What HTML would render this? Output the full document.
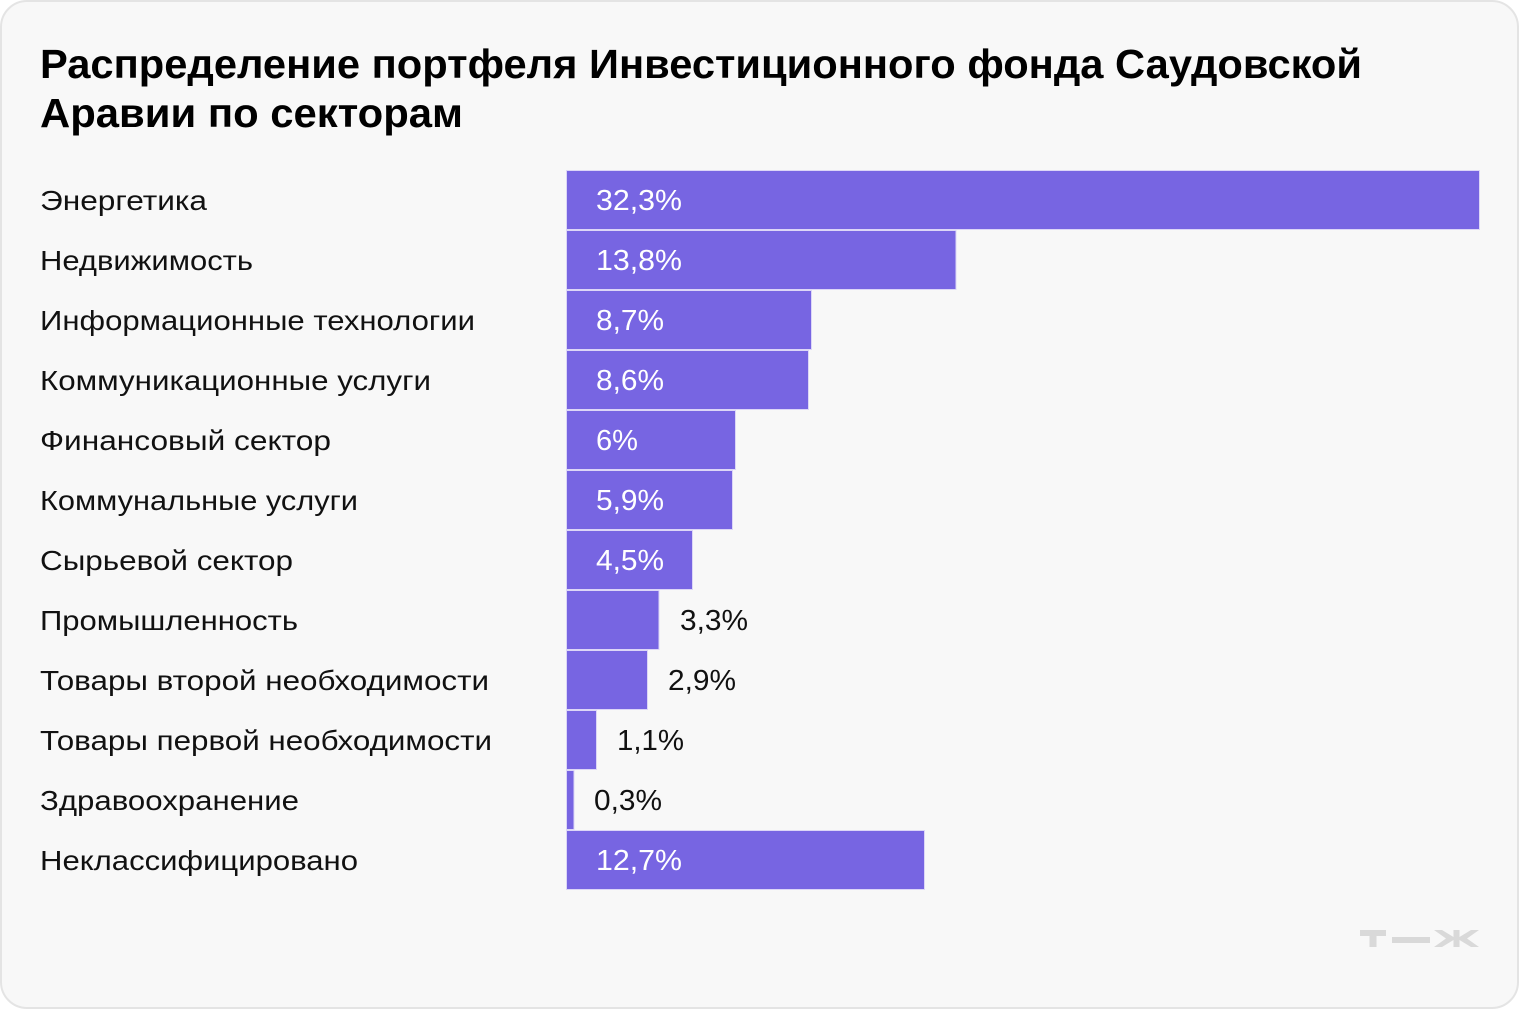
<!DOCTYPE html>
<html>
<head>
<meta charset="utf-8">
<style>
  html,body{margin:0;padding:0;background:#ffffff;}
  body{width:1520px;height:1010px;overflow:hidden;}
  svg{display:block;}
  .lbl{font-family:"Liberation Sans","Noto Sans CJK SC",sans-serif;font-size:28px;fill:#111;}
  .val{font-family:"Liberation Sans","Noto Sans CJK SC",sans-serif;font-size:29px;}
  .ttl{font-family:"Liberation Sans","Noto Sans CJK SC",sans-serif;font-size:41px;font-weight:bold;fill:#000;}
</style>
</head>
<body>
<svg width="1520" height="1010" viewBox="0 0 1520 1010" xmlns="http://www.w3.org/2000/svg">
  <rect x="1" y="1" width="1517" height="1007" rx="26" ry="26" fill="#f8f8f8" stroke="#e4e4e4" stroke-width="2"/>

  <text class="ttl" x="40" y="78" textLength="1322" lengthAdjust="spacingAndGlyphs">Распределение портфеля Инвестиционного фонда Саудовской</text>
  <text class="ttl" x="40" y="127" textLength="423" lengthAdjust="spacingAndGlyphs">Аравии по секторам</text>

  <g fill="#7765e2" stroke="#dcd6f7" stroke-width="1">
    <rect x="566.5" y="170.5" width="913" height="59"/>
    <rect x="566.5" y="230.5" width="389.5" height="59"/>
    <rect x="566.5" y="290.5" width="245" height="59"/>
    <rect x="566.5" y="350.5" width="242" height="59"/>
    <rect x="566.5" y="410.5" width="169" height="59"/>
    <rect x="566.5" y="470.5" width="166" height="59"/>
    <rect x="566.5" y="530.5" width="126" height="59"/>
    <rect x="566.5" y="590.5" width="92.5" height="59"/>
    <rect x="566.5" y="650.5" width="81" height="59"/>
    <rect x="566.5" y="710.5" width="30" height="59"/>
    <rect x="566.5" y="770.5" width="7.5" height="59"/>
    <rect x="566.5" y="830.5" width="358" height="59"/>
  </g>

  <g class="lbl">
    <text x="40" y="210" textLength="167" lengthAdjust="spacingAndGlyphs">Энергетика</text>
    <text x="40" y="270" textLength="213" lengthAdjust="spacingAndGlyphs">Недвижимость</text>
    <text x="40" y="330" textLength="435" lengthAdjust="spacingAndGlyphs">Информационные технологии</text>
    <text x="40" y="390" textLength="391" lengthAdjust="spacingAndGlyphs">Коммуникационные услуги</text>
    <text x="40" y="450" textLength="291" lengthAdjust="spacingAndGlyphs">Финансовый сектор</text>
    <text x="40" y="510" textLength="318" lengthAdjust="spacingAndGlyphs">Коммунальные услуги</text>
    <text x="40" y="570" textLength="253" lengthAdjust="spacingAndGlyphs">Сырьевой сектор</text>
    <text x="40" y="630" textLength="258" lengthAdjust="spacingAndGlyphs">Промышленность</text>
    <text x="40" y="690" textLength="449" lengthAdjust="spacingAndGlyphs">Товары второй необходимости</text>
    <text x="40" y="750" textLength="452" lengthAdjust="spacingAndGlyphs">Товары первой необходимости</text>
    <text x="40" y="810" textLength="259" lengthAdjust="spacingAndGlyphs">Здравоохранение</text>
    <text x="40" y="870" textLength="318" lengthAdjust="spacingAndGlyphs">Неклассифицировано</text>
  </g>

  <g class="val" fill="#ffffff">
    <text x="596" y="210" textLength="86" lengthAdjust="spacingAndGlyphs">32,3%</text>
    <text x="596" y="270" textLength="86" lengthAdjust="spacingAndGlyphs">13,8%</text>
    <text x="596" y="330" textLength="68" lengthAdjust="spacingAndGlyphs">8,7%</text>
    <text x="596" y="390" textLength="68" lengthAdjust="spacingAndGlyphs">8,6%</text>
    <text x="596" y="450" textLength="42" lengthAdjust="spacingAndGlyphs">6%</text>
    <text x="596" y="510" textLength="68" lengthAdjust="spacingAndGlyphs">5,9%</text>
    <text x="596" y="570" textLength="68" lengthAdjust="spacingAndGlyphs">4,5%</text>
    <text x="596" y="870" textLength="86" lengthAdjust="spacingAndGlyphs">12,7%</text>
  </g>
  <g class="val" fill="#111111">
    <text x="680" y="630" textLength="68" lengthAdjust="spacingAndGlyphs">3,3%</text>
    <text x="668" y="690" textLength="68" lengthAdjust="spacingAndGlyphs">2,9%</text>
    <text x="617" y="750" textLength="67" lengthAdjust="spacingAndGlyphs">1,1%</text>
    <text x="594" y="810" textLength="68" lengthAdjust="spacingAndGlyphs">0,3%</text>
  </g>

  <!-- logo -->
  <g fill="#d9d9d9">
    <rect x="1360" y="930" width="26" height="6"/>
    <rect x="1369.5" y="930" width="7" height="17"/>
    <rect x="1392" y="937" width="38" height="6"/>
    <rect x="1453.5" y="930" width="6" height="17"/>
    <polygon points="1434,930 1442,930 1453.5,937 1453.5,940 1442,947 1434,947 1446,938.5"/>
    <polygon points="1479,930 1471,930 1459.5,937 1459.5,940 1471,947 1479,947 1467,938.5"/>
  </g>
</svg>
</body>
</html>
